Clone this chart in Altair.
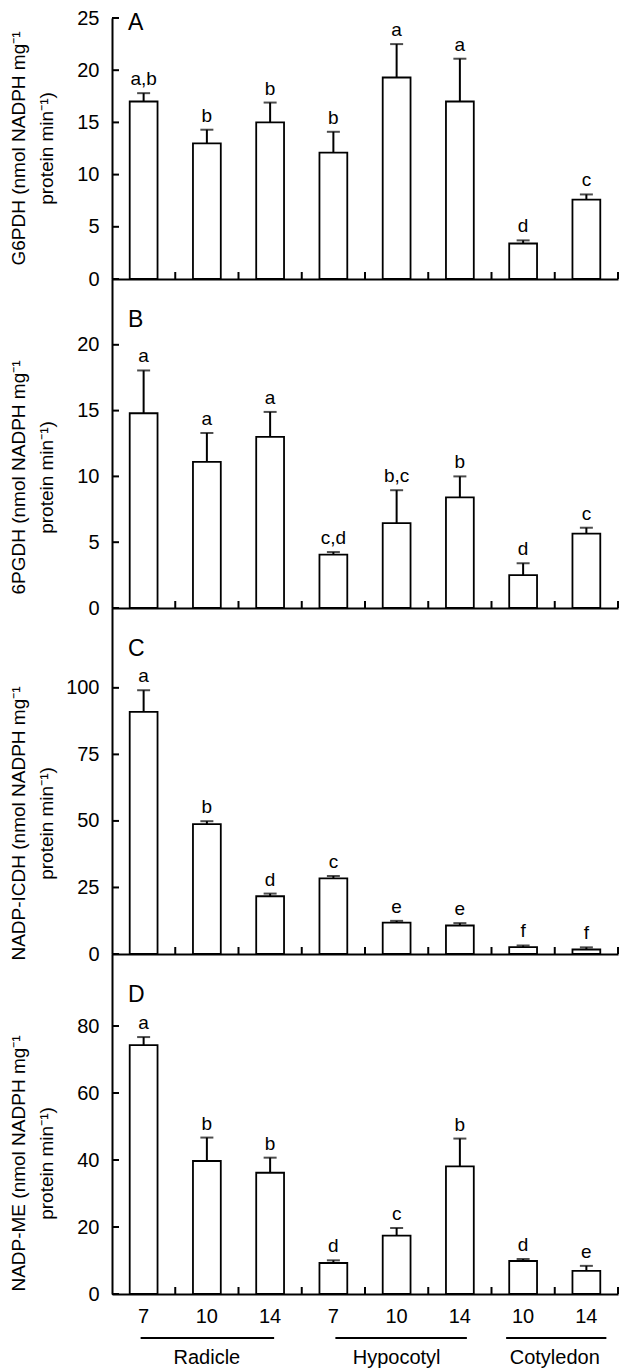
import altair as alt
import pandas as pd

# ---------------- data ----------------
tissues = ["Radicle", "Radicle", "Radicle", "Hypocotyl", "Hypocotyl", "Hypocotyl", "Cotyledon", "Cotyledon"]
days = ["7", "10", "14", "7", "10", "14", "10", "14"]
keys = [f"{t} {d}" for t, d in zip(tissues, days)]

g6pdh_mean = [17.0, 13.0, 15.0, 12.1, 19.3, 17.0, 3.4, 7.6]
g6pdh_err = [0.8, 1.3, 1.9, 2.0, 3.2, 4.1, 0.3, 0.5]
g6pdh_sig = ["a,b", "b", "b", "b", "a", "a", "d", "c"]

pgdh_mean = [14.8, 11.1, 13.0, 4.05, 6.45, 8.4, 2.5, 5.65]
pgdh_err = [3.25, 2.2, 1.9, 0.2, 2.5, 1.6, 0.9, 0.45]
pgdh_sig = ["a", "a", "a", "c,d", "b,c", "b", "d", "c"]

icdh_mean = [91.0, 48.8, 21.7, 28.4, 11.8, 10.7, 2.6, 1.7]
icdh_err = [8.1, 1.1, 1.0, 0.9, 0.65, 0.9, 0.6, 0.8]
icdh_sig = ["a", "b", "d", "c", "e", "e", "f", "f"]

me_mean = [74.3, 39.7, 36.2, 9.25, 17.4, 38.1, 9.85, 6.9]
me_err = [2.4, 7.0, 4.5, 0.8, 2.3, 8.3, 0.6, 1.5]
me_sig = ["a", "b", "b", "d", "c", "b", "d", "e"]

groups = ["Radicle", "Hypocotyl", "Cotyledon"]

# ---------------- style ----------------
FONT = "Liberation Sans"
W = 506
PI = 0.56
xscale = alt.Scale(domain=keys, paddingInner=PI, paddingOuter=PI / 2)
GAP = PI / 2 * W / len(keys)  # pixels from bar edge to step boundary


def panel(mean, err, sig, ymax, ticks, h, title, letter, letter_y, bottom=False):
    df = pd.DataFrame({"key": keys, "mean": mean,
                       "hi": [m + e for m, e in zip(mean, err)], "sig": sig})
    base = alt.Chart(df)
    if bottom:
        xaxis = alt.Axis(title=None, labels=True, ticks=False, tickSize=0, labelPadding=12,
                         labelFontSize=20, labelFont=FONT, labelColor="black", labelAngle=0,
                         labelExpr="split(datum.value, ' ')[1]",
                         domainWidth=2, domainColor="black", grid=False)
    else:
        xaxis = alt.Axis(title=None, labels=False, ticks=False, tickSize=0,
                         domainWidth=2, domainColor="black", grid=False)
    yscale = alt.Scale(domain=[0, ymax], nice=False, zero=True)
    yaxis = alt.Axis(title=title, values=ticks, ticks=False, tickSize=0, labelPadding=13,
                     labelFontSize=20, labelFont=FONT, labelColor="black",
                     domainWidth=2, domainColor="black", grid=False,
                     titleFont=FONT, titleFontSize=19, titleFontWeight="normal",
                     titleColor="black", titleLineHeight=28, titleX=-88, titleY=h - 131,
                     titleBaseline="alphabetic", titleAlign="center")

    def X(field="key", bp=None):
        kw = dict(sort=keys, scale=xscale, axis=xaxis, title=None)
        if bp is not None:
            kw["bandPosition"] = bp
        return alt.X(f"{field}:N", **kw)

    def Y(field):
        return alt.Y(f"{field}:Q", scale=yscale, axis=yaxis, title=title)

    bars = base.mark_bar(fill="white", stroke="black", strokeWidth=1.8).encode(
        x=X(), y=Y("mean"))
    err_line = base.mark_rule(color="black", strokeWidth=2).encode(
        x=X(), y=Y("mean"), y2="hi:Q")
    cap = base.mark_tick(color="black", size=13, thickness=2).encode(
        x=X(), y=Y("hi"))
    txt = base.mark_text(font=FONT, fontSize=19, baseline="alphabetic", dy=-8, color="black").encode(
        x=X(), y=Y("hi"), text="sig:N")
    xticks = base.mark_rule(color="black", strokeWidth=2, xOffset=GAP).encode(
        x=X(bp=1), y=alt.value(h), y2=alt.value(h - 7))
    yticks = alt.Chart(pd.DataFrame({"t": ticks})).mark_rule(color="black", strokeWidth=2).encode(
        y=Y("t"), x=alt.value(0), x2=alt.value(7))
    lab = alt.Chart(pd.DataFrame({"l": [letter]})).mark_text(
        font=FONT, fontSize=23, align="left", baseline="alphabetic", color="black").encode(
        text="l:N", x=alt.value(16), y=alt.value(letter_y))

    layers = [bars, err_line, cap, txt, xticks, yticks, lab]

    if bottom:
        spans = {"Radicle": (keys[0], keys[2], -3, 4, keys[1], 0.5, 0),
                 "Hypocotyl": (keys[3], keys[5], 2, 7, keys[4], 0.5, 0),
                 "Cotyledon": (keys[6], keys[7], -17, 20, keys[6], 1, GAP)}
        for g in groups:
            a, b, o1, o2, k, bp, dx = spans[g]
            gdf = pd.DataFrame({"a": [a], "b": [b], "k": [k], "g": [g]})
            layers.append(alt.Chart(gdf).mark_rule(color="black", strokeWidth=2,
                                                   xOffset=o1, x2Offset=o2).encode(
                x=X("a"), x2="b:N", y=alt.value(h + 44)))
            layers.append(alt.Chart(gdf).mark_text(font=FONT, fontSize=20, baseline="middle",
                                                   color="black", dx=dx).encode(
                x=X("k", bp=bp), y=alt.value(h + 64), text="g:N"))

    return alt.layer(*layers).properties(width=W, height=h)


pA = panel(g6pdh_mean, g6pdh_err, g6pdh_sig, 25, [0, 5, 10, 15, 20, 25], 261,
           ["G6PDH (nmol NADPH mg⁻¹", "protein min⁻¹)"], "A", 12)
pB = panel(pgdh_mean, pgdh_err, pgdh_sig, 25, [0, 5, 10, 15, 20], 329,
           ["6PGDH (nmol NADPH mg⁻¹", "protein min⁻¹)"], "B", 48)
pC = panel(icdh_mean, icdh_err, icdh_sig, 130, [0, 25, 50, 75, 100], 346,
           ["NADP-ICDH (nmol NADPH mg⁻¹", "protein min⁻¹)"], "C", 48)
pD = panel(me_mean, me_err, me_sig, 101.5, [0, 20, 40, 60, 80], 340,
           ["NADP-ME (nmol NADPH mg⁻¹", "protein min⁻¹)"], "D", 48, bottom=True)

chart = alt.vconcat(pA, pB, pC, pD, spacing=0, bounds="flush").properties(
    padding={"left": 0, "top": 0, "right": 5, "bottom": 0}
).configure_view(stroke=None)

chart.save("out.html", embed_options={"renderer": "svg", "actions": False})
